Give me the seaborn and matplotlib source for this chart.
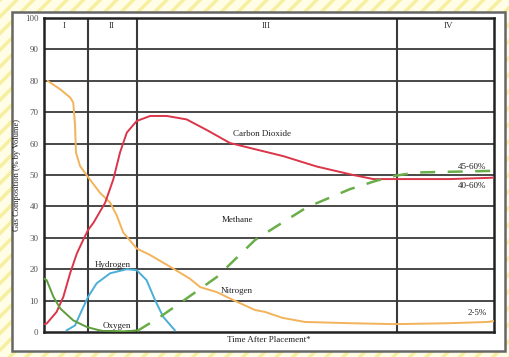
import matplotlib
matplotlib.use("Agg")
import matplotlib.pyplot as plt
import seaborn as sns
from matplotlib.patches import Rectangle

sns.set_style("white")
plt.rcParams['font.family'] = ['Liberation Serif', 'DejaVu Serif']
plt.rcParams['hatch.linewidth'] = 2.5

# time axis runs 0..100 (arbitrary, no tick labels in the original)
nitrogen_t = [0.8, 3.6, 5.8, 6.5, 6.9, 6.9, 7.1, 8.0, 9.6, 12.4, 14.7, 16.2, 17.6, 20.6, 23.6,
              28.0, 32.4, 34.7, 38.4, 42.0, 46.9, 49.1, 53.0, 58.0, 68.0, 78.0, 90.0, 98.7, 100.0]
nitrogen_v = [80.0, 77.3, 74.7, 73.1, 68.9, 62.5, 57.2, 52.9, 49.7, 44.4, 41.2, 37.0, 31.7, 26.6, 24.5,
              20.8, 17.0, 14.3, 12.7, 10.2, 7.0, 6.4, 4.5, 3.2, 2.8, 2.5, 2.8, 3.2, 3.5]

co2_t = [0.0, 0.6, 2.8, 4.3, 5.8, 7.3, 8.7, 9.8, 11.0, 13.6, 15.4, 16.9, 18.4, 20.6, 23.6,
         27.3, 31.7, 36.2, 41.3, 45.8, 53.2, 60.6, 68.7, 73.2, 78.2, 90.2, 99.1, 100.0]
co2_v = [2.5, 2.7, 6.4, 11.2, 18.7, 25.0, 29.3, 32.5, 34.8, 41.2, 48.6, 57.2, 63.5, 67.2, 68.8,
         68.8, 67.7, 64.3, 60.2, 58.6, 56.0, 52.7, 50.0, 48.7, 48.7, 48.7, 49.1, 49.2]

methane_t = [20.7, 25.8, 31.7, 38.4, 46.9, 48.7, 58.4, 68.0, 73.9, 78.2, 82.8, 99.1, 100.0]
methane_v = [0.3, 4.8, 10.7, 17.5, 29.3, 31.0, 39.7, 45.5, 48.2, 49.8, 50.8, 51.3, 51.3]

hydrogen_t = [5.0, 6.9, 8.4, 9.8, 11.7, 14.7, 18.4, 20.6, 22.8, 24.7, 26.5, 29.1]
hydrogen_v = [0.5, 2.1, 6.9, 11.2, 15.5, 18.7, 20.0, 19.7, 16.5, 10.1, 4.8, 0.5]

oxygen_t = [0.0, 0.6, 2.1, 3.6, 6.5, 9.5, 12.4, 17.6, 20.6]
oxygen_v = [17.0, 16.5, 11.2, 7.5, 3.7, 1.6, 0.5, 0.2, 0.5]

phase_edges = [9.8, 20.7, 78.4]
phase_names = ['I', 'II', 'III', 'IV']
phase_mid = [4.4, 15.0, 49.3, 89.8]

fig = plt.figure(figsize=(5.1, 3.57), dpi=100)
fig.patches.append(Rectangle((0, 0), 1, 1, transform=fig.transFigure, facecolor='#FFFDE6',
                             edgecolor='#F7EFA0', hatch='//', lw=0, zorder=-3))
fig.patches.append(Rectangle((12 / 510, 6 / 357), 493 / 510, 339 / 357, transform=fig.transFigure,
                             facecolor='white', edgecolor='#666666', lw=1.8, zorder=-2))

ax = fig.add_axes([44 / 510, 25 / 357, 450 / 510, 314 / 357])
ax.set_xlim(0, 100)
ax.set_ylim(0, 100)
ax.set_facecolor('white')

for y in range(10, 100, 10):
    ax.axhline(y, color='#3a3a3a', lw=1.3, zorder=1)
for x in phase_edges:
    ax.axvline(x, color='#3a3a3a', lw=1.5, zorder=1)
for s in ax.spines.values():
    s.set_color('#222222')
    s.set_linewidth(1.8)

curves = [
    (nitrogen_t, nitrogen_v, '#F2B35A'),
    (co2_t, co2_v, '#DA3549'),
    (hydrogen_t, hydrogen_v, '#4AAED6'),
    (oxygen_t, oxygen_v, '#5E9E3A'),
]
for t, v, c in curves:
    sns.lineplot(x=t, y=v, color=c, lw=1.4, ax=ax, sort=False, zorder=3)
sns.lineplot(x=methane_t, y=methane_v, color='#6AAE4A', lw=1.8, ax=ax, sort=False, zorder=3)
ax.lines[-1].set_dashes([6, 5])
for ln in ax.lines:
    ln.set_solid_joinstyle('round')
    ln.set_solid_capstyle('round')

for name, m in zip(phase_names, phase_mid):
    ax.text(m, 97.5, name, ha='center', va='center', fontsize=6.5, color='#333333')

labels = [('Carbon Dioxide', 48.4, 63.1), ('Methane', 43.0, 35.7), ('Hydrogen', 15.3, 21.2),
          ('Nitrogen', 42.9, 13.0), ('Oxygen', 16.2, 1.9), ('45-60%', 95.1, 52.5),
          ('40-60%', 95.1, 46.5), ('2-5%', 96.2, 6.1)]
for txt, x, y in labels:
    ax.text(x, y, txt, ha='center', va='center', fontsize=6.5, color='#222222',
            bbox=dict(facecolor='white', edgecolor='none', pad=0.3) if txt == 'Oxygen' else None,
            zorder=4)

ax.set_yticks(range(0, 101, 10))
ax.set_yticklabels([str(v) for v in range(0, 101, 10)], fontsize=6.5, color='#555555')
ax.tick_params(axis='y', length=0, pad=4)
ax.set_xticks([])
ax.set_xlabel('Time After Placement*', fontsize=6.5, color='#222222', labelpad=3)
ax.set_ylabel('Gas Composition (% by Volume)', fontsize=6, color='#222222', labelpad=3)

fig.savefig('out.png', dpi=100)
